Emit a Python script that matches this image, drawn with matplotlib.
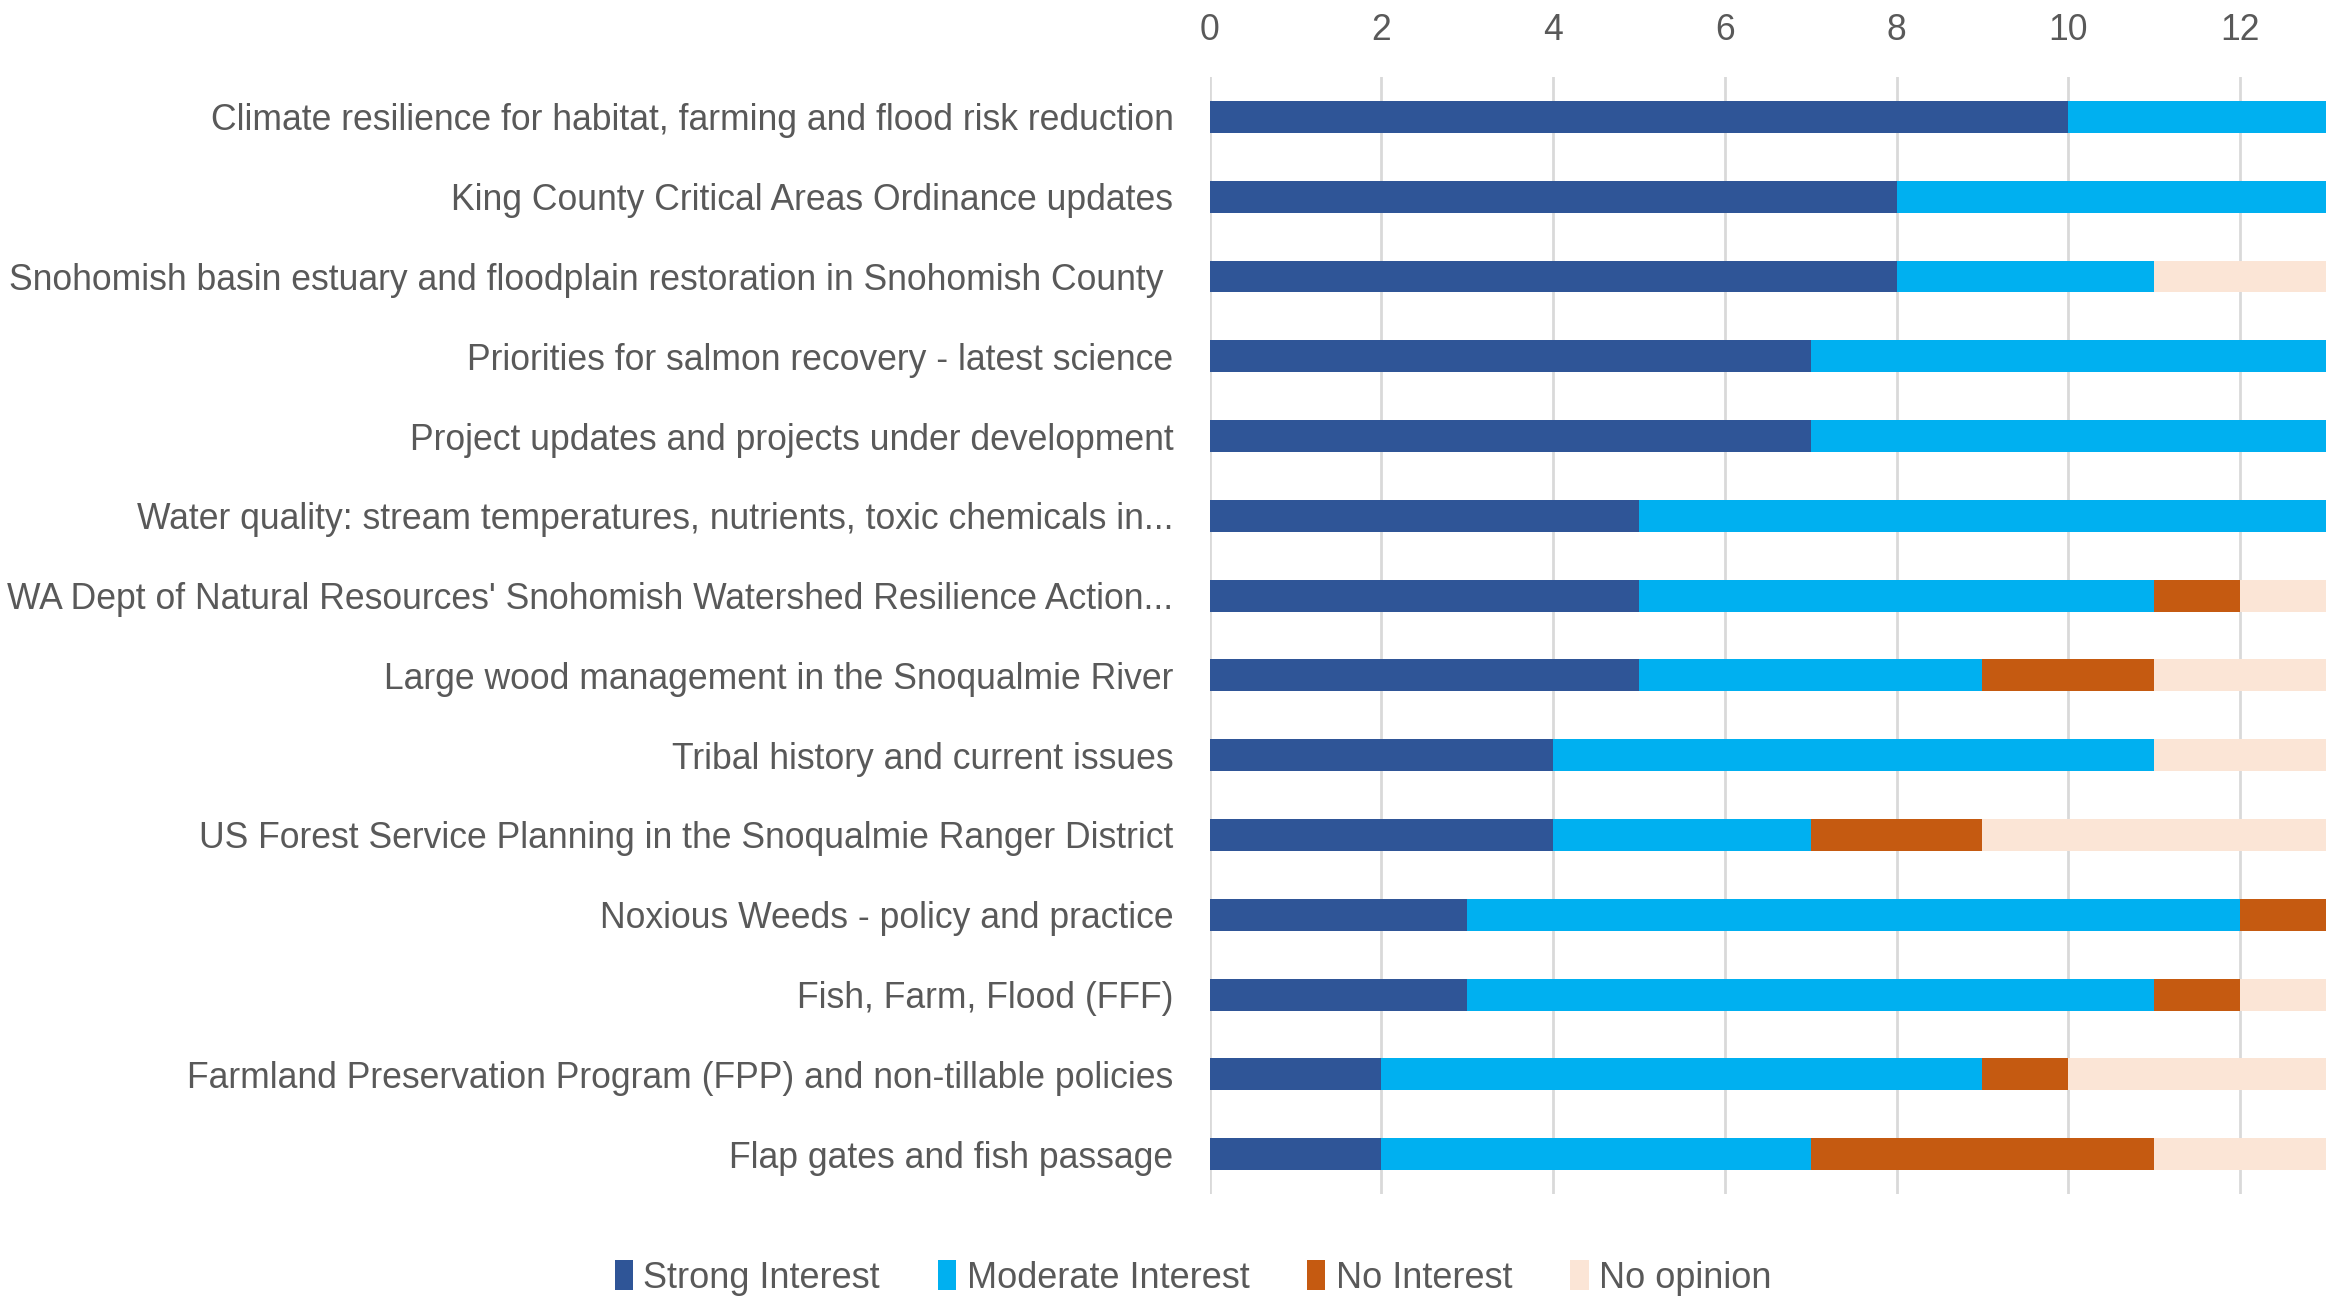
import matplotlib
matplotlib.use("Agg")
import matplotlib.pyplot as plt
import numpy as np

# topics, top to bottom as in the chart
topics = [
    "Climate resilience for habitat, farming and flood risk reduction",
    "King County Critical Areas Ordinance updates",
    "Snohomish basin estuary and floodplain restoration in Snohomish County ",
    "Priorities for salmon recovery - latest science",
    "Project updates and projects under development",
    "Water quality: stream temperatures, nutrients, toxic chemicals in...",
    "WA Dept of Natural Resources' Snohomish Watershed Resilience Action...",
    "Large wood management in the Snoqualmie River",
    "Tribal history and current issues",
    "US Forest Service Planning in the Snoqualmie Ranger District",
    "Noxious Weeds - policy and practice",
    "Fish, Farm, Flood (FFF)",
    "Farmland Preservation Program (FPP) and non-tillable policies",
    "Flap gates and fish passage",
]
strong = [10, 8, 8, 7, 7, 5, 5, 5, 4, 4, 3, 3, 2, 2]
moderate = [5, 6, 3, 7, 7, 9, 6, 4, 7, 3, 9, 8, 7, 5]
no_interest = [0, 0, 0, 0, 0, 0, 1, 2, 0, 2, 2, 1, 1, 4]
no_opinion = [1, 2, 5, 2, 2, 2, 4, 5, 5, 7, 2, 4, 6, 5]

series = ["Strong Interest", "Moderate Interest", "No Interest", "No opinion"]
colors = ["#2F5597", "#00B0F0", "#C55A11", "#FBE5D6"]
xticks = [0, 2, 4, 6, 8, 10, 12]

plt.rcParams['font.family'] = ['Liberation Sans', 'DejaVu Sans']
text_col = "#595959"

fig = plt.figure(figsize=(23.26, 12.97), dpi=100)
ax = fig.add_axes([0.52, 0.0794, 0.48, 0.8612])

y = np.arange(len(topics))
left = np.zeros(len(topics))
for name, vals, c in zip(series, [strong, moderate, no_interest, no_opinion], colors):
    ax.barh(y, vals, left=left, height=0.4, color=c, label=name, zorder=3)
    left += np.array(vals)

ax.set_xlim(0, 13)
ax.set_ylim(len(topics) - 0.5, -0.5)
ax.set_yticks(y)
ax.set_yticklabels(topics, fontsize=25.6, color=text_col)
ax.set_xticks(xticks)
ax.set_xticklabels([str(t) for t in xticks], fontsize=25.6, color=text_col)
ax.xaxis.tick_top()
ax.tick_params(axis='x', length=0, pad=21)
ax.tick_params(axis='y', length=0, pad=26)
ax.grid(axis='x', color="#D9D9D9", linewidth=2, zorder=0)
for s in ax.spines.values():
    s.set_visible(False)

fig.legend(loc='lower center', bbox_to_anchor=(0.513, -0.024), ncol=4, frameon=False,
           fontsize=26, labelcolor=text_col, handlelength=0.5, handleheight=0.9,
           handletextpad=0.3, columnspacing=1.6)

fig.savefig("out.png", dpi=100)
